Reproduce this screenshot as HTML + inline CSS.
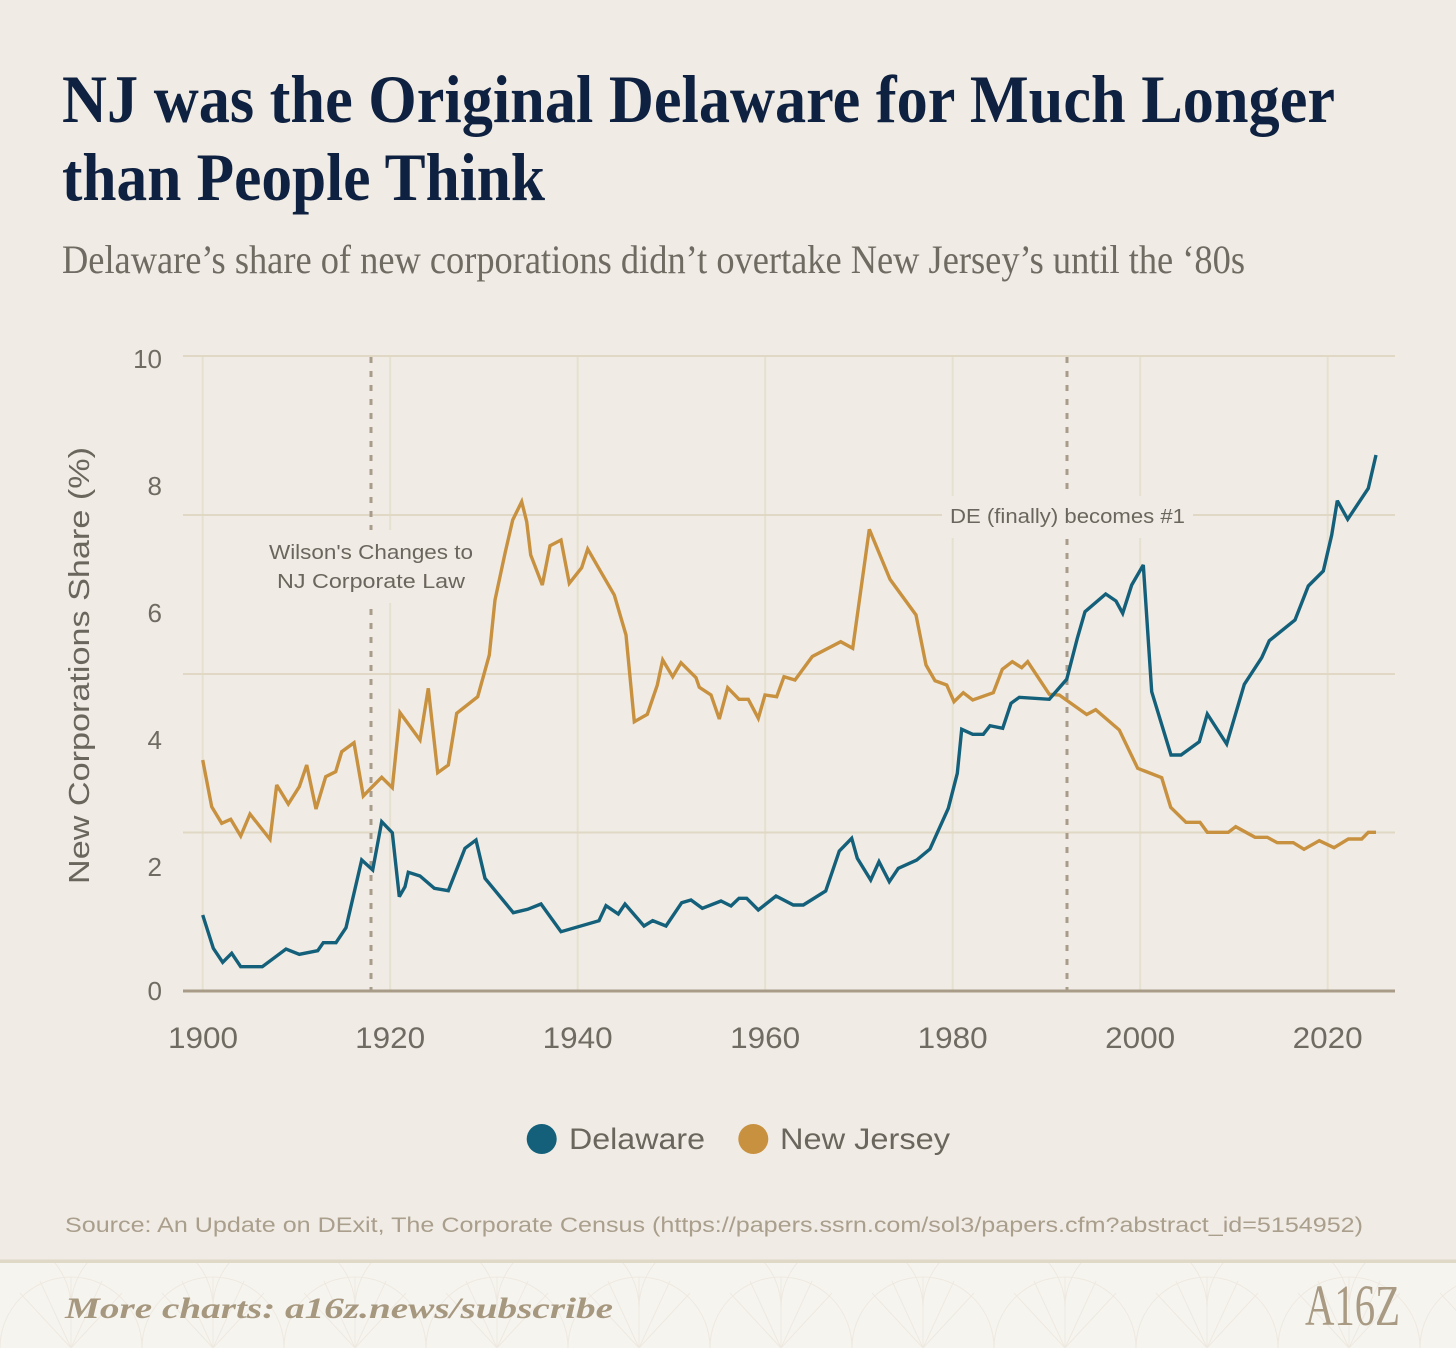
<!DOCTYPE html>
<html>
<head>
<meta charset="utf-8">
<style>
  html, body { margin: 0; padding: 0; background: #f0ece5; }
  svg { display: block; }
</style>
</head>
<body>
<svg width="1456" height="1348" viewBox="0 0 1456 1348" xmlns="http://www.w3.org/2000/svg">
  <defs>
    <pattern id="fan" x="0" y="1263" width="142" height="85" patternUnits="userSpaceOnUse">
      <g fill="none" stroke="#eee9e0" stroke-width="1">
        <path d="M0,85 A71,71 0 0 1 142,85"/>
        <path d="M71,85 L20,30 M71,85 L40,18 M71,85 L71,14 M71,85 L102,18 M71,85 L122,30"/>
        <path d="M-71,45 A71,71 0 0 1 71,45 A71,71 0 0 1 213,45"/>
      </g>
    </pattern>
  </defs>

  <rect x="0" y="0" width="1456" height="1348" fill="#f0ece5"/>

  <!-- Title -->
  <g font-family="'Liberation Serif', serif" font-weight="600" fill="#0f2140">
    <text x="62" y="122" font-size="68" textLength="1273" lengthAdjust="spacingAndGlyphs">NJ was the Original Delaware for Much Longer</text>
    <text x="62" y="200" font-size="68" textLength="483" lengthAdjust="spacingAndGlyphs">than People Think</text>
  </g>
  <text x="62" y="273" font-family="'Liberation Serif', serif" font-size="40" fill="#6f6b63" textLength="1183" lengthAdjust="spacingAndGlyphs">Delaware’s share of new corporations didn’t overtake New Jersey’s until the ‘80s</text>

  <!-- Gridlines -->
  <g stroke="#e6e0d0" stroke-width="2">
    <line x1="202.7" y1="356" x2="202.7" y2="991"/>
    <line x1="390.2" y1="356" x2="390.2" y2="991"/>
    <line x1="577.7" y1="356" x2="577.7" y2="991"/>
    <line x1="765.2" y1="356" x2="765.2" y2="991"/>
    <line x1="952.7" y1="356" x2="952.7" y2="991"/>
    <line x1="1140.2" y1="356" x2="1140.2" y2="991"/>
    <line x1="1327.7" y1="356" x2="1327.7" y2="991"/>
  </g>
  <g stroke="#e0d7c4" stroke-width="2">
    <line x1="183" y1="356" x2="1395" y2="356"/>
    <line x1="183" y1="515" x2="1395" y2="515"/>
    <line x1="183" y1="674" x2="1395" y2="674"/>
    <line x1="183" y1="832.5" x2="1395" y2="832.5"/>
  </g>

  <!-- Reference dashed lines -->
  <g stroke="#a99c8b" stroke-width="3" stroke-dasharray="6 8">
    <line x1="371" y1="357" x2="371" y2="990"/>
    <line x1="1067" y1="357" x2="1067" y2="990"/>
  </g>

  <!-- Annotation backgrounds -->
  <rect x="264" y="530" width="214" height="73" fill="#f0ece5"/>
  <rect x="942" y="496" width="251" height="42" fill="#f0ece5"/>

  <!-- Annotations -->
  <g font-family="'Liberation Sans', sans-serif" font-size="20" fill="#6b665d" text-anchor="middle">
    <text x="371" y="559" textLength="204" lengthAdjust="spacingAndGlyphs">Wilson's Changes to</text>
    <text x="371" y="588" textLength="188" lengthAdjust="spacingAndGlyphs">NJ Corporate Law</text>
    <text x="1067.5" y="523" textLength="235" lengthAdjust="spacingAndGlyphs">DE (finally) becomes #1</text>
  </g>

  <!-- Series -->
  <polyline fill="none" stroke="#c89140" stroke-width="3.4" stroke-linejoin="miter" stroke-miterlimit="3" points="
202.7,760 211.7,806.7 221.7,823.3 230.7,819.3 240.7,836 250,814 270,839.3 276.7,785 288.3,804 299.3,786.7
306.7,765 316,809 325.7,776.7 335.7,771.7 341.7,751.7 354,742.7 363.3,796 370.7,788.3 381.7,777.3 392.3,787.7
400,712.7 420,740 428.3,688.3 437.7,772.7 448.3,765 456.7,713.3 477.7,696.7 489.3,655 495,600 505,553.3
512.7,520 521.7,501.7 526.7,521.7 530.7,555 542.3,585 550,545.7 561,540 569.3,583.3 581.7,567.7 587.7,549
601.7,573.3 614.3,595 626,635 634.3,721.7 647.3,714.3 657.3,685 662.7,660 672.7,676.7 681,662.7 696,677.7
699.3,687.3 711,695 719.3,719 727.7,687.7 739,699.3 748.3,699.3 758.3,718.3 765,695 776.7,696.7 784,676.7
795,680 812.3,656.5 840.7,641.7 852.7,648.3 869.3,529.3 890,579.3 916,615 926,665 935,680.7 946.7,685
954,701.7 963.3,692.7 972.7,700 993.3,692.7 1002.3,669.3 1012.3,661.7 1021.7,667.7 1027.7,661.7 1049.3,694.3 1059.3,695
1086.7,714.5 1095.7,709.7 1119.3,730 1137.7,768.3 1161.7,777.7 1170.7,807.3 1186,822.3 1200,822.3 1207.3,832.3 1228.3,832.3
1235.7,826.7 1255,837.3 1267.3,837.3 1277.3,842.7 1293.3,842.7 1304,849.3 1319.3,840.7 1334,847.7 1348.3,839 1361.7,839
1368.3,832.3 1376,832.3"/>

  <polyline fill="none" stroke="#14607a" stroke-width="3.4" stroke-linejoin="miter" stroke-miterlimit="3" points="
202.7,915 213.3,948.3 222.7,962.3 231.7,953.3 240.7,966.7 262.3,966.7 286,949 299.3,954.3 317.7,950.7 323.3,942.7
336,942.7 346,927.7 361.7,860 372.7,870 381.7,821.7 392.3,832.7 399.3,896.7 405,886.7 408.3,872.3 420,876
434.3,888.3 448.3,890.7 465,848.3 476,840 485,878.3 513.3,912.7 527.7,909.3 541,904 561,931.7 599,920.7
606,905.7 618.3,914 625,904 644,926 652.7,920.7 666,926 681.7,902.7 691,900 702.3,908.3 721,901
731,906 739,898.3 746.7,898.3 758.3,910 776,896 793.3,905 803.3,905 825.7,891 839.3,851 851.7,838.3
857.3,858.3 870.7,880 879,861.7 889.3,881.7 898.3,868.3 916.7,860 930,849 948.3,808.3 957.3,773.3 961.7,729.3
972.7,734.3 983.3,734.3 990,725.7 1002.7,728.3 1011,703.3 1019.3,697.3 1049.3,699.3 1066.7,679.3 1077.3,638.3 1085,611.7
1105.7,594 1116,601 1122.7,613.3 1131.7,585 1143.3,565 1151.7,691.7 1171,755 1181,755 1199.3,741.7 1207.3,714
1226.7,744 1244.3,684.3 1261.7,657.7 1269.3,640.7 1295,620 1308.3,586 1323.3,571 1331.7,535 1337.3,500.7 1347.7,519.3
1368.3,488.3 1376,455"/>

  <!-- Axis line -->
  <line x1="183" y1="991" x2="1395" y2="991" stroke="#a89b88" stroke-width="3"/>

  <!-- Y tick labels -->
  <g font-family="'Liberation Sans', sans-serif" font-size="26" fill="#706b62" text-anchor="end">
    <text x="162" y="368">10</text>
    <text x="162" y="495">8</text>
    <text x="162" y="622">6</text>
    <text x="162" y="749">4</text>
    <text x="162" y="876">2</text>
    <text x="162" y="1000">0</text>
  </g>

  <!-- X tick labels -->
  <g font-family="'Liberation Sans', sans-serif" font-size="30" fill="#706b62" text-anchor="middle">
    <text x="203" y="1048" textLength="70" lengthAdjust="spacingAndGlyphs">1900</text>
    <text x="390.2" y="1048" textLength="70" lengthAdjust="spacingAndGlyphs">1920</text>
    <text x="577.7" y="1048" textLength="70" lengthAdjust="spacingAndGlyphs">1940</text>
    <text x="765.2" y="1048" textLength="70" lengthAdjust="spacingAndGlyphs">1960</text>
    <text x="952.7" y="1048" textLength="70" lengthAdjust="spacingAndGlyphs">1980</text>
    <text x="1140.2" y="1048" textLength="70" lengthAdjust="spacingAndGlyphs">2000</text>
    <text x="1327.7" y="1048" textLength="70" lengthAdjust="spacingAndGlyphs">2020</text>
  </g>

  <!-- Y axis title -->
  <text transform="translate(89,665.5) rotate(-90)" font-family="'Liberation Sans', sans-serif" font-size="29" fill="#6b665d" text-anchor="middle" textLength="437" lengthAdjust="spacingAndGlyphs">New Corporations Share (%)</text>

  <!-- Legend -->
  <circle cx="541.7" cy="1139" r="15" fill="#14607a"/>
  <text x="569" y="1149" font-family="'Liberation Sans', sans-serif" font-size="30" fill="#6b665d" textLength="136" lengthAdjust="spacingAndGlyphs">Delaware</text>
  <circle cx="753.3" cy="1139" r="15" fill="#c89140"/>
  <text x="780" y="1149" font-family="'Liberation Sans', sans-serif" font-size="30" fill="#6b665d" textLength="170" lengthAdjust="spacingAndGlyphs">New Jersey</text>

  <!-- Source -->
  <text x="65" y="1232" font-family="'Liberation Sans', sans-serif" font-size="21" fill="#aa9e8c" textLength="1298" lengthAdjust="spacingAndGlyphs">Source: An Update on DExit, The Corporate Census (https://papers.ssrn.com/sol3/papers.cfm?abstract_id=5154952)</text>

  <!-- Footer -->
  <rect x="0" y="1263" width="1456" height="85" fill="#f6f4ef"/>
  <rect x="0" y="1263" width="1456" height="85" fill="url(#fan)"/>
  <rect x="0" y="1259.5" width="1456" height="3.5" fill="#e0d8c6"/>
  <text x="65" y="1318" font-family="'Liberation Serif', serif" font-style="italic" font-weight="bold" font-size="30" fill="#a6977f" textLength="548" lengthAdjust="spacingAndGlyphs">More charts: a16z.news/subscribe</text>
  <text x="1305" y="1325" font-family="'Liberation Serif', serif" font-size="58" fill="#a89a83" textLength="95" lengthAdjust="spacingAndGlyphs">A16Z</text>
</svg>
</body>
</html>
